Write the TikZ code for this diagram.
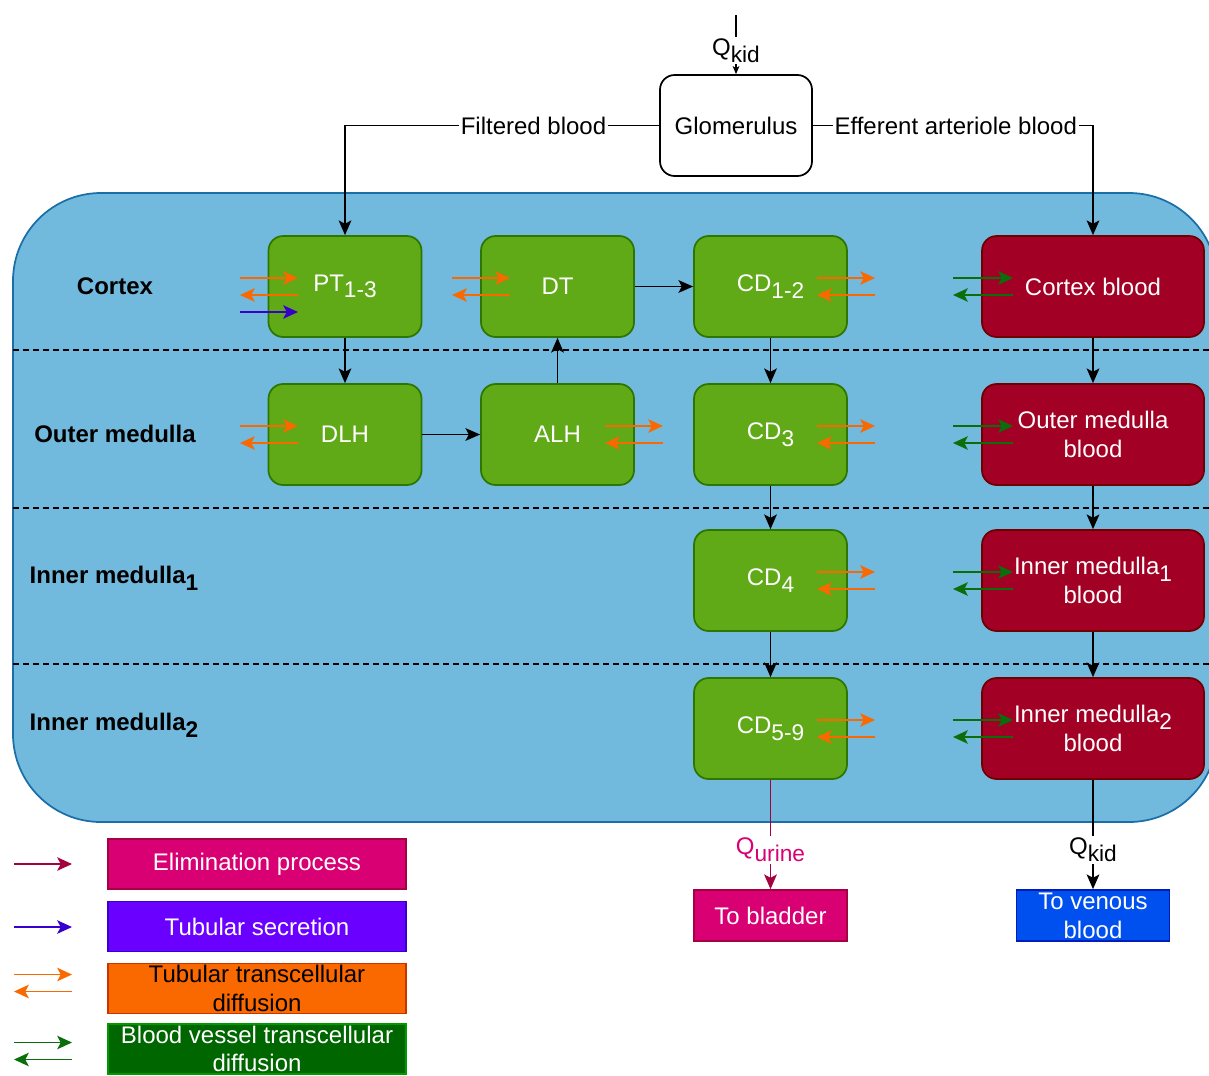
\documentclass[tikz,border=0pt]{standalone}
\usepackage{fontspec}
\setmainfont{Liberation Sans}
\usetikzlibrary{arrows.meta,calc}
\definecolor{bgfill}{HTML}{72B9DE}
\definecolor{bgdraw}{HTML}{1A6FA8}
\definecolor{gfill}{HTML}{60A917}
\definecolor{gdraw}{HTML}{2D7600}
\definecolor{rfill}{HTML}{A20025}
\definecolor{rdraw}{HTML}{6F0000}
\definecolor{orarr}{HTML}{FA6800}
\definecolor{grarr}{HTML}{0A6E0A}
\definecolor{blarr}{HTML}{3700CC}
\definecolor{elarr}{HTML}{A50040}
\definecolor{elfill}{HTML}{D80073}
\definecolor{sefill}{HTML}{6A00FF}
\definecolor{tufill}{HTML}{FA6800}
\definecolor{tudraw}{HTML}{C73500}
\definecolor{bvfill}{HTML}{006600}
\definecolor{bvdraw}{HTML}{009A00}
\definecolor{vefill}{HTML}{0050EF}
\definecolor{vedraw}{HTML}{001DBC}
\newcommand{\sbs}[1]{\raisebox{-5pt}{\fontsize{17}{17}\selectfont #1}}
\newcommand{\dpair}[4]{%
  \draw[flow,#4] (#1,#3-8) -- (#2,#3-8);
  \draw[flow,#4] (#2,#3+9) -- (#1,#3+9);}
\tikzset{
  conn/.style={draw=black, line width=1.4pt, -{Stealth[length=11pt,width=9.5pt,inset=2.5pt]}},
  flow/.style={line width=1.4pt, -{Stealth[length=11pt,width=10pt,inset=2.5pt]}},
  gbox/.style={draw=gdraw, fill=gfill, line width=1.3pt, rounded corners=11pt, minimum width=114.75pt, minimum height=75.75pt, inner sep=0pt, text=white, align=center},
  rbox/.style={draw=rdraw, fill=rfill, line width=1.3pt, rounded corners=11pt, minimum width=166.5pt, minimum height=75.75pt, inner sep=0pt, text=white, align=center},
  legbox/.style={line width=1.3pt, minimum width=223.5pt, minimum height=37.5pt, inner sep=0pt, align=center},
  outbox/.style={line width=1.3pt, minimum width=114.75pt, minimum height=38.25pt, inner sep=0pt, text=white, align=center},
  zonelbl/.style={font=\fontsize{18}{21.6}\selectfont\bfseries, inner sep=0pt},
  lbl/.style={fill=white, inner sep=1.5pt},
  zoneline/.style={draw=black, line width=1.3pt, dash pattern=on 4.5pt off 3pt}
}
\begin{document}
\begin{tikzpicture}[x=0.75pt,y=-0.75pt, font=\fontsize{18}{21.6}\selectfont]
\useasboundingbox (0,0) rectangle (1209,1075);
% background kidney region
\path[fill=bgfill, draw=bgdraw, line width=1.3pt, rounded corners=66pt] (13,193) rectangle (1217,822);
\draw[zoneline] (13,350) -- (1217,350);
\draw[zoneline] (13,508) -- (1217,508);
\draw[zoneline] (13,664) -- (1217,664);
% zone labels
\node[zonelbl] (zc) at (115,286) {Cortex};
\node[zonelbl] (zo) at (115,434) {Outer medulla};
\node[zonelbl] (zi1) at (114,578) {Inner medulla\sbs{1}};
\node[zonelbl] (zi2) at (114,725) {Inner medulla\sbs{2}};
% glomerulus
\node[draw=black, fill=white, line width=1.3pt, rounded corners=11pt, minimum width=114pt, minimum height=75.75pt, inner sep=0pt] (glom) at (736,125.5) {Glomerulus};
% row 1
\node[gbox] (pt) at (345,286.5) {PT\sbs{1-3}};
\node[gbox] (dt) at (557.5,286.5) {DT};
\node[gbox] (cd12) at (770.5,286.5) {CD\sbs{1-2}};
\node[rbox] (cb) at (1093,286.5) {Cortex blood};
% row 2
\node[gbox] (dlh) at (345,434.5) {DLH};
\node[gbox] (alh) at (557.5,434.5) {ALH};
\node[gbox] (cd3) at (770.5,434.5) {CD\sbs{3}};
\node[rbox] (omb) at (1093,434.5) {Outer medulla\\blood};
% row 3
\node[gbox] (cd4) at (770.5,580.5) {CD\sbs{4}};
\node[rbox] (im1) at (1093,580.5) {Inner medulla\sbs{1}\\blood};
% row 4
\node[gbox] (cd59) at (770.5,728.5) {CD\sbs{5-9}};
\node[rbox] (im2) at (1093,728.5) {Inner medulla\sbs{2}\\blood};
% outputs
\node[outbox, fill=elfill, draw=elarr] (blad) at (770.5,915.5) {To bladder};
\node[outbox, fill=vefill, draw=vedraw] (ven) at (1093,915.5) {To venous\\blood};
% top inflow
\coordinate (qtop) at (736,15);
\draw[draw=black, line width=1.3pt, -{Stealth[length=6pt,width=5pt,inset=1.5pt]}] (qtop) -- node[lbl, pos=0.6]{Q\sbs{kid}} (glom.north);
% glomerulus outputs
\draw[conn] (glom.west) -- node[lbl, pos=0.4]{Filtered blood} (pt.north |- glom.west) -- (pt.north);
\draw[conn] (glom.east) -- node[lbl, pos=0.51]{Efferent arteriole blood} (cb.north |- glom.east) -- (cb.north);
% tubule flow
\draw[conn] (pt) -- (dlh);
\draw[conn] (dlh) -- (alh);
\draw[conn] (alh) -- (dt);
\draw[conn] (dt) -- (cd12);
\draw[conn] (cd12) -- (cd3);
\draw[conn] (cd3) -- (cd4);
\draw[conn] (cd4) -- (cd59);
% blood flow
\draw[conn] (cb) -- (omb);
\draw[conn] (omb) -- (im1);
\draw[conn] (im1) -- (im2);
% exits
\draw[draw=elarr, line width=1.4pt, -{Stealth[length=11pt,width=9.5pt,inset=2.5pt]}] (cd59) -- node[lbl, pos=0.64, text=elfill]{Q\sbs{urine}} (blad);
\draw[conn] (im2) -- node[lbl, pos=0.64]{Q\sbs{kid}} (ven);
% diffusion arrows
\dpair{240}{298}{286}{orarr}
\draw[flow,blarr] (240,312) -- (298,312);
\dpair{452}{510}{286}{orarr}
\dpair{817}{875}{286}{orarr}
\dpair{953}{1013}{286}{grarr}
\dpair{240}{298}{434}{orarr}
\dpair{605}{663}{434}{orarr}
\dpair{817}{875}{434}{orarr}
\dpair{953}{1013}{434}{grarr}
\dpair{817}{875}{580}{orarr}
\dpair{953}{1013}{580}{grarr}
\dpair{817}{875}{728}{orarr}
\dpair{953}{1013}{728}{grarr}
% legend
\node[legbox, fill=elfill, draw=elarr, text=white] (l1) at (257,864) {Elimination process};
\node[legbox, fill=sefill, draw=blarr, text=white] (l2) at (257,926.5) {Tubular secretion};
\node[legbox, fill=tufill, draw=tudraw, text=black] (l3) at (257,988.5) {Tubular transcellular\\diffusion};
\node[legbox, fill=bvfill, draw=bvdraw, text=white] (l4) at (257,1049) {Blood vessel transcellular\\diffusion};
\draw[flow,elarr] (14,864) -- (72,864);
\draw[flow,blarr] (14,927) -- (72,927);
\dpair{14}{72}{982.5}{orarr}
\dpair{14}{72}{1050.5}{grarr}
\end{tikzpicture}
\end{document}
